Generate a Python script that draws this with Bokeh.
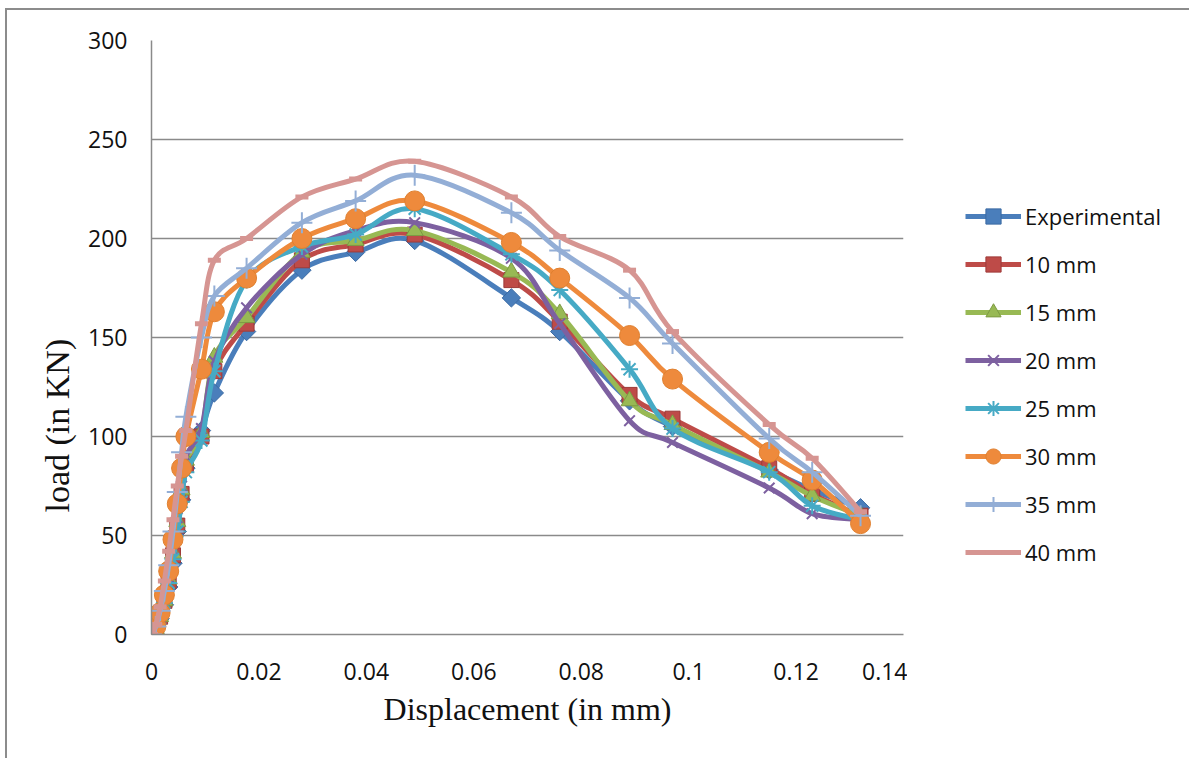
import numpy as np
from math import pi
from bokeh.plotting import figure
from bokeh.layouts import row
from bokeh.models import Legend, LegendItem, FixedTicker, NumeralTickFormatter, Title
from bokeh.embed import file_html
from bokeh.resources import INLINE

displacement = [0, 0.0008, 0.0016, 0.0024, 0.0032, 0.0040, 0.0048, 0.0056, 0.0064,
                0.0093, 0.0117, 0.0177, 0.028, 0.038, 0.049, 0.067, 0.076, 0.089,
                0.097, 0.115, 0.123, 0.132]

series_names = ["Experimental", "10 mm", "15 mm", "20 mm", "25 mm", "30 mm", "35 mm", "40 mm"]
load_experimental = [0, 3, 8, 15, 24, 36, 52, 68, 84, 103, 122, 153, 184, 193, 199, 170, 153, 118, 105, 83, 73, 64]
load_10mm = [0, 3, 9, 17, 27, 40, 55, 71, 86, 100, 133, 157, 189, 197, 202, 179, 158, 121, 109, 84, 71, 60]
load_15mm = [0, 3, 9, 17, 28, 41, 57, 73, 88, 102, 140, 160, 193, 199, 204, 183, 162, 118, 106, 82, 70, 60]
load_20mm = [0, 3, 9, 18, 29, 43, 59, 75, 90, 104, 138, 165, 192, 204, 208, 190, 157, 108, 97, 74, 61, 58]
load_25mm = [0, 3, 8, 16, 26, 38, 52, 67, 82, 98, 133, 179, 196, 202, 215, 192, 174, 134, 104, 82, 65, 58]
load_30mm = [0, 4, 11, 20, 32, 48, 66, 84, 100, 134, 163, 180, 200, 210, 219, 198, 180, 151, 129, 92, 78, 56]
load_35mm = [0, 4, 12, 22, 35, 52, 72, 92, 110, 150, 171, 185, 208, 219, 232, 213, 194, 170, 147, 99, 82, 60]
load_40mm = [0, 5, 14, 27, 42, 58, 75, 90, 103, 157, 189, 200, 221, 230, 239, 221, 201, 184, 153, 106, 89, 62]

x_ticks = [0, 0.02, 0.04, 0.06, 0.08, 0.1, 0.12, 0.14]
y_ticks = [0, 50, 100, 150, 200, 250, 300]

all_loads = [load_experimental, load_10mm, load_15mm, load_20mm, load_25mm, load_30mm, load_35mm, load_40mm]

styles = [
    # line color, marker, marker size, fill, marker line color, marker line width, angle
    ("#4a7ebb", "square", 13, "#4a7ebb", "#3b6aa3", 1, pi / 4),
    ("#be4b48", "square", 15, "#be4b48", "#9e3b39", 1, 0),
    ("#98b954", "triangle", 17, "#98b954", "#7d9a43", 1, 0),
    ("#7d60a0", "x", 15, None, "#7d60a0", 2, 0),
    ("#46aac5", "asterisk", 17, None, "#46aac5", 2, 0),
    ("#ee8a3c", "circle", 20, "#ee8a3c", "#e0802f", 1, 0),
    ("#93aed6", "cross", 21, None, "#93aed6", 2, 0),
    ("#d69592", "dash", 13, None, "#d69592", 5, 0),
]


def bezier_segments(xs, ys):
    xs = np.asarray(xs, dtype=float)
    ys = np.asarray(ys, dtype=float)
    n = len(xs)
    px = np.concatenate([[xs[0]], xs, [xs[-1]]])
    py = np.concatenate([[ys[0]], ys, [ys[-1]]])
    x0, y0, x1, y1, cx0, cy0, cx1, cy1 = ([] for _ in range(8))
    for i in range(n - 1):
        a, b, c, d = i, i + 1, i + 2, i + 3
        x0.append(px[b]); y0.append(py[b])
        x1.append(px[c]); y1.append(py[c])
        cx0.append(px[b] + (px[c] - px[a]) / 6.0)
        cy0.append(py[b] + (py[c] - py[a]) / 6.0)
        cx1.append(px[c] - (px[d] - px[b]) / 6.0)
        cy1.append(py[c] - (py[d] - py[b]) / 6.0)
    return dict(x0=x0, y0=y0, x1=x1, y1=y1, cx0=cx0, cy0=cy0, cx1=cx1, cy1=cy1)


# ---- main chart ----
p = figure(width=900, height=748, output_backend="svg", toolbar_location=None,
           x_range=(0, 0.14), y_range=(0, 300),
           min_border_left=144, min_border_right=4, min_border_top=30, min_border_bottom=124)

p.outline_line_color = None
p.background_fill_color = "white"
p.border_fill_color = "white"

p.xgrid.grid_line_color = None
p.ygrid.grid_line_color = "#8a8a8a"
p.ygrid.grid_line_width = 1.5
p.xaxis.ticker = FixedTicker(ticks=x_ticks)
p.yaxis.ticker = FixedTicker(ticks=y_ticks)
p.xaxis.formatter = NumeralTickFormatter(format="0.[00]")

for ax in (p.xaxis, p.yaxis):
    ax.axis_line_color = "#8a8a8a"
    ax.axis_line_width = 1.5
    ax.major_tick_line_color = None
    ax.minor_tick_line_color = None
    ax.major_label_text_font = "Open Sans"
    ax.major_label_text_font_size = "23px"
    ax.major_label_text_color = "#111111"
    ax.axis_label_text_font = "Liberation Serif"
    ax.axis_label_text_font_style = "normal"
    ax.axis_label_text_font_size = "32px"
    ax.axis_label_text_color = "#111111"

p.xaxis.axis_label = "Displacement (in mm)"
p.xaxis.major_label_standoff = 22
p.yaxis.major_label_standoff = 18
p.xaxis.axis_label_standoff = 8

ytitle = Title(text="load (in KN)", align="left", offset=122, standoff=20,
               text_font="Liberation Serif", text_font_style="normal",
               text_font_size="34px", text_color="#111111")
p.add_layout(ytitle, "left")

for name, loads, st in zip(series_names, all_loads, styles):
    color, marker, size, fill, mline, mlw, ang = st
    seg = bezier_segments(displacement, loads)
    p.bezier(x0=seg["x0"], y0=seg["y0"], x1=seg["x1"], y1=seg["y1"],
             cx0=seg["cx0"], cy0=seg["cy0"], cx1=seg["cx1"], cy1=seg["cy1"],
             line_color=color, line_width=5)
    p.scatter(x=displacement, y=loads, marker=marker, size=size, angle=ang,
              fill_color=fill, line_color=mline, line_width=mlw)

# ---- legend panel ----
q = figure(width=282, height=748, output_backend="svg", toolbar_location=None,
           x_range=(0, 1), y_range=(0, 1), x_axis_type=None, y_axis_type=None,
           min_border_left=0, min_border_right=0, min_border_top=0, min_border_bottom=0)
q.outline_line_color = None
q.grid.visible = False
q.background_fill_color = "white"
q.border_fill_color = "white"

items = []
for name, st in zip(series_names, styles):
    color, marker, size, fill, mline, mlw, ang = st
    ln = q.line(x=[np.nan], y=[np.nan], line_color=color, line_width=5)
    sc = q.scatter(x=[np.nan], y=[np.nan], marker=marker, angle=ang,
                   fill_color=fill, line_color=mline, line_width=mlw)
    items.append(LegendItem(label=name, renderers=[ln, sc]))

legend = Legend(items=items, location=(58, 63), orientation="vertical",
                border_line_color=None, background_fill_alpha=0,
                padding=0, margin=0, spacing=10, glyph_width=56, glyph_height=38,
                label_height=38, label_standoff=4,
                label_text_font="Open Sans", label_text_font_size="22px",
                label_text_color="#111111")
q.add_layout(legend, "center")

layout = row(p, q)
layout.styles = {"border-top": "2px solid #8c8c8c", "border-left": "2px solid #8c8c8c",
                 "margin-left": "5px", "margin-top": "8px"}

open("out.html", "w").write(file_html(layout, INLINE))
